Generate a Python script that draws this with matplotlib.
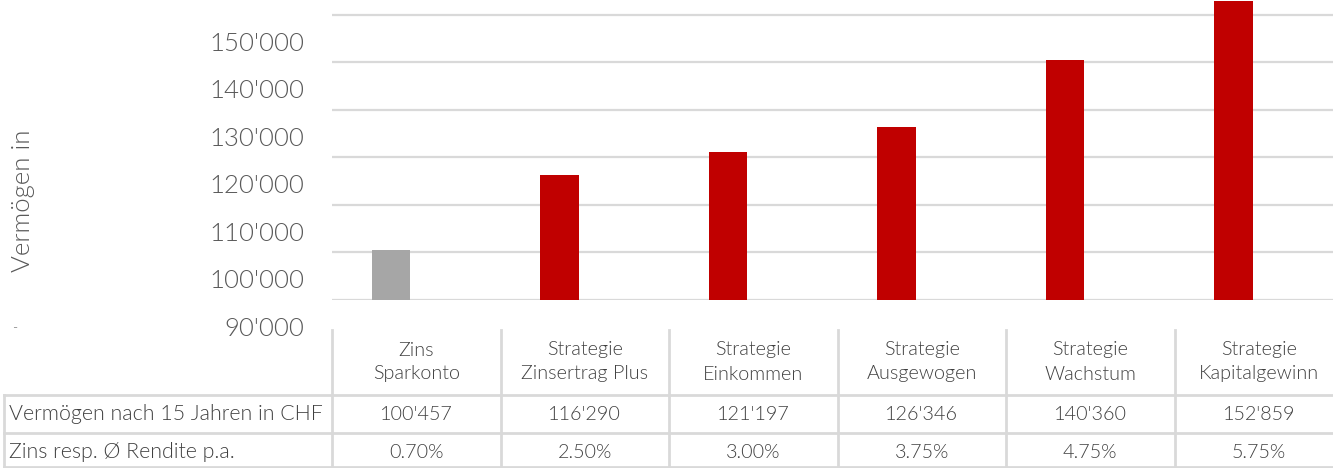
import matplotlib
matplotlib.use('Agg')
import matplotlib.pyplot as plt
from matplotlib.transforms import blended_transform_factory

plt.rcParams['font.family'] = ['Lato', 'DejaVu Sans']
plt.rcParams['font.weight'] = 300

categories = [('Zins', 'Sparkonto'), ('Strategie', 'Zinsertrag Plus'), ('Strategie', 'Einkommen'),
              ('Strategie', 'Ausgewogen'), ('Strategie', 'Wachstum'), ('Strategie', 'Kapitalgewinn')]
vermoegen = [100457, 116290, 121197, 126346, 140360, 152859]
vermoegen_labels = ["100'457", "116'290", "121'197", "126'346", "140'360", "152'859"]
rendite = ['0.70%', '2.50%', '3.00%', '3.75%', '4.75%', '5.75%']
bar_colors = ['#a6a6a6', '#c00000', '#c00000', '#c00000', '#c00000', '#c00000']
yticks = [90000, 100000, 110000, 120000, 130000, 140000, 150000]
row_titles = ['Vermögen nach 15 Jahren in CHF', 'Zins resp. Ø Rendite p.a.']

W, H = 1333, 468
fig = plt.figure(figsize=(W / 100, H / 100), dpi=100)

# chart area (pixel layout)
ax = fig.add_axes([332 / W, 168 / H, 1011 / W, 300 / H])
x = list(range(len(vermoegen)))
ax.bar([i - 0.15 for i in x], vermoegen, width=0.226, color=bar_colors, zorder=3)
ax.set_xlim(-0.5, 5.5)
ax.set_ylim(90000, 153050)
ax.set_yticks(yticks)
ax.yaxis.grid(True, color='#d9d9d9', linewidth=1.6, zorder=0)
ax.tick_params(length=0, labelleft=False, labelbottom=False)
for s in ax.spines.values():
    s.set_visible(False)
ax.set_xticks([])

# overlay in pixel coords for labels and the data table
tab = fig.add_axes([0, 0, 1, 1], facecolor='none')
tab.set_xlim(0, W)
tab.set_ylim(H, 0)
tab.axis('off')
tx = blended_transform_factory(ax.transData, tab.transData)

txt = '#404040'
fs = 14.2
# y tick labels (shifted below their gridlines like in the original)
for v in yticks:
    ypix = H - ax.transData.transform((0, v))[1]
    tab.text(304, ypix + 29, "{:,}".format(v).replace(',', "'"), ha='right', va='center',
             fontsize=18.5, color='#595959')

tab.text(23, 201, 'Vermögen in', rotation=90, ha='center', va='center', fontsize=18.5, color='#595959')
tab.text(15, 328, '-', ha='center', va='center', fontsize=10, color='#595959')

grid_c = '#d9d9d9'
for i in range(len(categories) + 1):
    tab.plot([i - 0.5, i - 0.5], [330, H], color=grid_c, lw=2, transform=tx, clip_on=False)
tab.plot([4, 4], [395, H], color=grid_c, lw=2)
for yl in [395, 433, 467]:
    tab.plot([4, W], [yl, yl], color=grid_c, lw=2)

for i, (l1, l2) in enumerate(categories):
    tab.text(i, 350, l1, ha='center', va='center', fontsize=fs, color=txt, transform=tx)
    tab.text(i, 374, l2, ha='center', va='center', fontsize=fs, color=txt, transform=tx)
    tab.text(i, 414, vermoegen_labels[i], ha='center', va='center', fontsize=fs, color=txt, transform=tx)
    tab.text(i, 452, rendite[i], ha='center', va='center', fontsize=fs, color=txt, transform=tx)

tab.text(9, 414, row_titles[0], ha='left', va='center', fontsize=fs + 1.2, color=txt)
tab.text(9, 452, row_titles[1], ha='left', va='center', fontsize=fs + 1.2, color=txt)

fig.savefig('out.png', dpi=100)
